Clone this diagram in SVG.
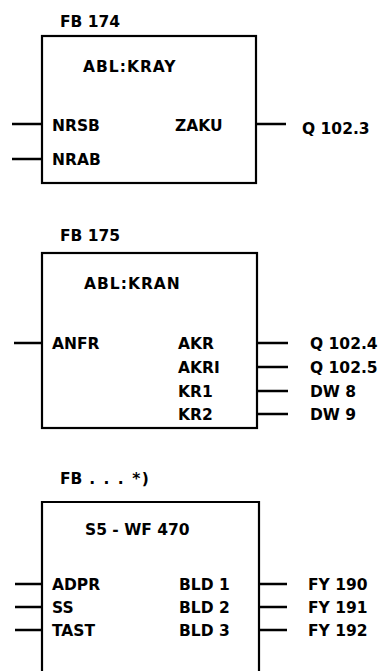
<svg xmlns="http://www.w3.org/2000/svg" width="380" height="671" viewBox="0 0 380 671">
<style>
text{font-family:"DejaVu Sans","Liberation Sans",sans-serif;font-weight:bold;font-size:15.5px;fill:#000}
.title{letter-spacing:1px}
.dots{letter-spacing:1.5px}
.box{fill:none;stroke:#000;stroke-width:2.2}
.ln{stroke:#000;stroke-width:2.5;fill:none}
</style>
<rect width="380" height="671" fill="#fff"/>
<g id="fb174">
<text x="60" y="27">FB 174</text>
<rect class="box" x="42" y="36" width="214" height="147"/>
<text class="title" x="83" y="72">ABL:KRAY</text>
<text x="52" y="131">NRSB</text>
<text x="52" y="165">NRAB</text>
<text x="175" y="131">ZAKU</text>
<text x="302" y="134">Q 102.3</text>
</g>
<g id="fb175">
<text x="60" y="241">FB 175</text>
<rect class="box" x="42" y="253" width="215" height="175"/>
<text class="title" x="84" y="289">ABL:KRAN</text>
<text x="52" y="349">ANFR</text>
<text x="178" y="349">AKR</text>
<text x="178" y="373">AKRI</text>
<text x="178" y="397">KR1</text>
<text x="178" y="420">KR2</text>
<text x="310" y="349">Q 102.4</text>
<text x="310" y="373">Q 102.5</text>
<text x="310" y="397">DW 8</text>
<text x="310" y="420">DW 9</text>
</g>
<g id="fbx">
<text x="60" y="484">FB<tspan class="dots"> . . . *)</tspan></text>
<path class="box" d="M42,671 V502 H259 V671"/>
<text x="85" y="535">S5 - WF 470</text>
<text x="52" y="590">ADPR</text>
<text x="52" y="613">SS</text>
<text x="52" y="636">TAST</text>
<text x="179" y="590">BLD 1</text>
<text x="179" y="613">BLD 2</text>
<text x="179" y="636">BLD 3</text>
<text x="308" y="590">FY 190</text>
<text x="308" y="613">FY 191</text>
<text x="308" y="636">FY 192</text>
</g>
<g id="connectors">
<path class="ln" d="M12,124 H42 M12,159 H42 M256,124 H286"/>
<path class="ln" d="M14,343 H42 M257,343 H288 M257,367 H288 M257,391 H288 M257,414 H288"/>
<path class="ln" d="M15,584 H42 M15,607 H42 M15,630 H42 M259,584 H287 M259,607 H287 M259,630 H287"/>
</g>
</svg>
